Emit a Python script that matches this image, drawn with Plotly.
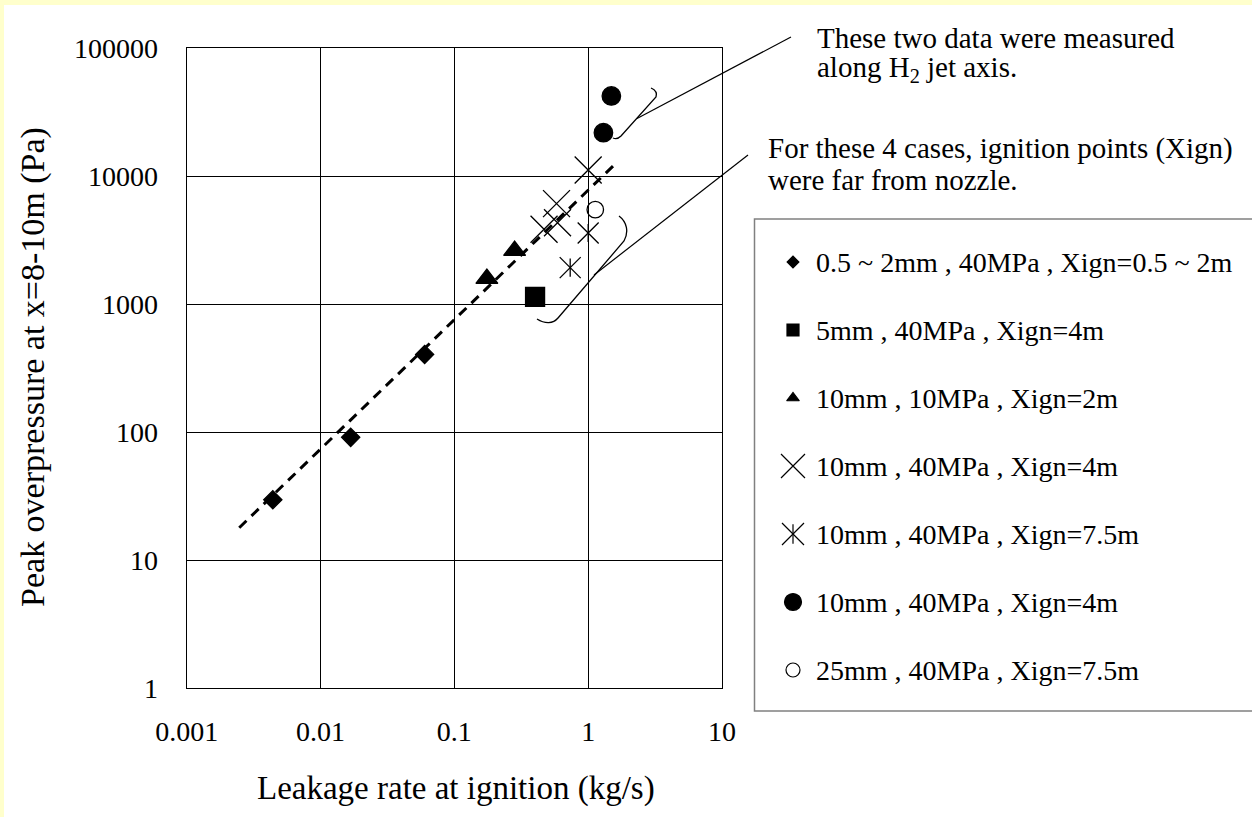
import plotly.graph_objects as go

# ---------------- data ----------------
diamond_x = [0.0044, 0.0168, 0.060]
diamond_y = [29.6, 91.0, 405.0]

square_x = [0.401]
square_y = [1140.0]

triangle_x = [0.175, 0.282]
triangle_y = [1585.0, 2620.0]

cross_x = [0.468, 0.580, 0.590, 1.0]
cross_y = [3850.0, 6110.0, 4330.0, 11200.0]

asterisk_x = [0.734, 1.0]
asterisk_y = [1930.0, 3600.0]

dot_x = [1.30, 1.49]
dot_y = [21900.0, 42400.0]

ring_x = [1.13]
ring_y = [5480.0]

# power-law trend line
fit_x = [0.00247, 1.66]
fit_y = [17.9, 13000.0]

x_tick_vals = [0.001, 0.01, 0.1, 1, 10]
x_tick_text = ["0.001", "0.01", "0.1", "1", "10"]
y_tick_vals = [1, 10, 100, 1000, 10000, 100000]
y_tick_text = ["1", "10", "100", "1000", "10000", "100000"]

legend_labels = [
    "0.5 ~ 2mm , 40MPa , Xign=0.5 ~ 2m",
    "5mm , 40MPa , Xign=4m",
    "10mm , 10MPa , Xign=2m",
    "10mm , 40MPa , Xign=4m",
    "10mm , 40MPa , Xign=7.5m",
    "10mm , 40MPa , Xign=4m",
    "25mm , 40MPa , Xign=7.5m",
]

note_top = ["These two data were measured", "along H<sub>2</sub> jet axis."]
note_bottom = ["For these 4 cases, ignition points (Xign)", "were far from nozzle."]

x_title = "Leakage rate at ignition (kg/s)"
y_title = "Peak overpressure at x=8-10m (Pa)"

# ---------------- styling ----------------
W, H = 1252, 817
FONT = "Liberation Serif, Times New Roman, serif"
INK = "black"

# plot frame in pixels
PX_L, PX_R, PX_T, PX_B = 186.7, 722.0, 48.3, 688.0

# marker layers per series: (symbol, size in plot, size in legend)
series = [
    (diamond_x, diamond_y, [("diamond", 14, 9)]),
    (square_x, square_y, [("square", 19, 12)]),
    (triangle_x, triangle_y, [("triangle-up", 19, 11)]),
    (cross_x, cross_y, [("x-thin-open", 27, 24)]),
    (asterisk_x, asterisk_y, [("x-thin-open", 21, 22), ("line-ns-open", 13, 14)]),
    (dot_x, dot_y, [("circle", 18.5, 17)]),
    (ring_x, ring_y, [("circle-open", 16.5, 14)]),
]

fig = go.Figure()

# dashed trend line
fig.add_trace(go.Scatter(
    x=fit_x, y=fit_y, mode="lines",
    line=dict(color=INK, width=3, dash="10px,7px"),
    hoverinfo="skip", showlegend=False,
))

# data points
for xs, ys, layers in series:
    for sym, size, _ in layers:
        fig.add_trace(go.Scatter(
            x=xs, y=ys, mode="markers",
            marker=dict(symbol=sym, size=size, color=INK,
                        line=dict(color=INK, width=1.3)),
            showlegend=False,
        ))

# legend, drawn on a pixel-space overlay
LEG_X0, LEG_Y0, LEG_Y1 = 754.5, 219.0, 711.0
LEG_MARK_X, LEG_TEXT_X = 793.0, 814.0
LEG_ROW0, LEG_STEP = 262.0, 68.0
for i, (label, (_, _, layers)) in enumerate(zip(legend_labels, series)):
    row_y = LEG_ROW0 + LEG_STEP * i
    for sym, _, lsize in layers:
        fig.add_trace(go.Scatter(
            x=[LEG_MARK_X], y=[row_y], xaxis="x2", yaxis="y2", mode="markers",
            marker=dict(symbol=sym, size=lsize, color=INK,
                        line=dict(color=INK, width=1.2)),
            hoverinfo="skip", showlegend=False,
        ))
    fig.add_annotation(
        x=LEG_TEXT_X, y=row_y, xref="x2", yref="y2", text=label,
        showarrow=False, xanchor="left", yanchor="middle",
        font=dict(family=FONT, size=28, color=INK),
    )

# explanatory notes
for j, line in enumerate(note_top):
    fig.add_annotation(
        x=815, y=38 + 31 * j, xref="x2", yref="y2", text=line,
        showarrow=False, xanchor="left", yanchor="middle",
        font=dict(family=FONT, size=29, color=INK),
    )
for j, line in enumerate(note_bottom):
    fig.add_annotation(
        x=766, y=148 + 32 * j, xref="x2", yref="y2", text=line,
        showarrow=False, xanchor="left", yanchor="middle",
        font=dict(family=FONT, size=29, color=INK),
    )

# axis titles
fig.add_annotation(
    x=456, y=788, xref="x2", yref="y2", text=x_title, showarrow=False,
    xanchor="center", yanchor="middle",
    font=dict(family=FONT, size=33, color=INK),
)
fig.add_annotation(
    x=33, y=367, xref="x2", yref="y2", text=y_title, showarrow=False,
    textangle=-90, xanchor="center", yanchor="middle",
    font=dict(family=FONT, size=34, color=INK),
)

shapes = [
    # white page inside the thin yellow edge
    dict(type="rect", xref="paper", yref="paper", x0=4 / W, x1=1.0,
         y0=0.0, y1=1 - 5 / H, fillcolor="white", line=dict(width=0),
         layer="below"),
    # legend frame (runs off the right edge)
    dict(type="rect", xref="x2", yref="y2", x0=LEG_X0, x1=W + 20,
         y0=LEG_Y0, y1=LEG_Y1, line=dict(color="#808080", width=1.5)),
    # braces around the highlighted points
    dict(type="path", xref="x2", yref="y2",
         path="M651,88 Q658,91 656,97 L621,136 Q617,140 613,138",
         line=dict(color=INK, width=1.3)),
    dict(type="path", xref="x2", yref="y2",
         path="M619,216 C627,222 629,232 624,241 L558,318 C553,324 545,324 537,319",
         line=dict(color=INK, width=1.3)),
    # leader lines to the notes
    dict(type="line", xref="x2", yref="y2", x0=637, y0=118.5, x1=791, y1=37,
         line=dict(color=INK, width=1.2)),
    dict(type="line", xref="x2", yref="y2", x0=594, y0=275, x1=748, y1=155,
         line=dict(color=INK, width=1.2)),
]

axis_common = dict(
    type="log", showgrid=True, gridcolor=INK, gridwidth=1,
    showline=True, linecolor=INK, linewidth=1.4, mirror=True,
    ticks="", zeroline=False, automargin=False,
    tickfont=dict(family=FONT, size=28, color=INK),
)

fig.update_layout(
    template="none",
    width=W, height=H, autosize=False,
    margin=dict(l=0, r=0, t=0, b=0, pad=0, autoexpand=False),
    paper_bgcolor="#FFFFCC", plot_bgcolor="rgba(0,0,0,0)",
    showlegend=False,
    xaxis=dict(axis_common, range=[-3, 1], domain=[PX_L / W, PX_R / W],
               tickvals=x_tick_vals, ticktext=x_tick_text,
               ticklabelstandoff=18),
    yaxis=dict(axis_common, range=[0, 5], domain=[1 - PX_B / H, 1 - PX_T / H],
               tickvals=y_tick_vals, ticktext=y_tick_text,
               ticklabelstandoff=22),
    xaxis2=dict(range=[0, W], domain=[0, 1], visible=False, fixedrange=True,
                automargin=False),
    yaxis2=dict(range=[H, 0], domain=[0, 1], visible=False, fixedrange=True,
                automargin=False),
    shapes=shapes,
)

fig.write_html("out.html")
